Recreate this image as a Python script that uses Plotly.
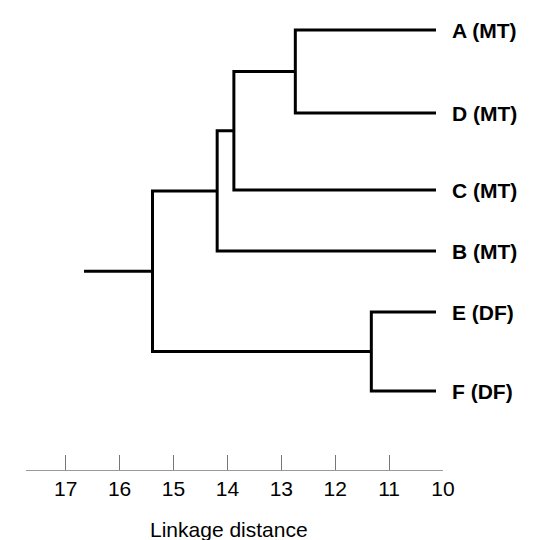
import plotly.graph_objects as go

# ---- data ----
leaf_labels = ["A (MT)", "D (MT)", "C (MT)", "B (MT)", "E (DF)", "F (DF)"]
leaf_pos = [22, 105, 182, 243, 304, 383]          # vertical leaf positions
leaf_dist = 10.13                                   # where leaf branches end
# merges: (node_a, node_b, linkage distance); new node ids continue after leaves
merges = [
    (0, 1, 12.74),   # A + D
    (6, 2, 13.88),   # AD + C
    (7, 3, 14.19),   # ADC + B
    (4, 5, 11.33),   # E + F
    (8, 9, 15.39),   # ADCB + EF
]
root_stub = 16.66
tick_vals = [17, 16, 15, 14, 13, 12, 11, 10]
axis_start = 17.744
axis_title = "Linkage distance"

# ---- build dendrogram paths ----
node_x = [leaf_dist] * len(leaf_labels)
node_y = list(leaf_pos)
xs, ys = [], []
for a, b, h in merges:
    xs += [node_x[a], h, h, node_x[b], None]
    ys += [node_y[a], node_y[a], node_y[b], node_y[b], None]
    node_x.append(h)
    node_y.append((node_y[a] + node_y[b]) / 2)
xs += [node_x[-1], root_stub, None]
ys += [node_y[-1], node_y[-1], None]

fig = go.Figure()
fig.add_trace(go.Scatter(x=xs, y=ys, mode="lines",
                         line=dict(color="black", width=3),
                         hoverinfo="skip", showlegend=False))

for lab, y in zip(leaf_labels, leaf_pos):
    fig.add_annotation(x=leaf_dist, y=y, xref="x", yref="y", text=lab,
                       showarrow=False, xanchor="left", yanchor="middle", xshift=14,
                       font=dict(family="Liberation Sans, Arial", size=21, color="black",
                                 weight="bold"))

fig.add_annotation(x=143 / 535, y=0, xref="paper", yref="paper", text=axis_title,
                   showarrow=False, xanchor="left", yanchor="bottom", yshift=5,
                   font=dict(family="Liberation Sans, Arial", size=21, color="black"))

fig.update_layout(
    width=535, height=540,
    margin=dict(l=0, r=0, t=0, b=0),
    paper_bgcolor="white", plot_bgcolor="white",
    xaxis=dict(domain=[18 / 535, 445 / 535], range=[axis_start, 10],
               anchor="free", position=(540 - 462) / 540,
               tickvals=tick_vals, ticktext=[str(v) for v in tick_vals],
               ticks="inside", ticklen=15, tickcolor="#777", tickwidth=1,
               showline=True, linecolor="#999", linewidth=1,
               showgrid=False, zeroline=False,
               tickfont=dict(family="Liberation Sans, Arial", size=21, color="black")),
    yaxis=dict(domain=[0, 1], range=[540, 0], visible=False,
               showgrid=False, zeroline=False),
)

fig.write_html("out.html")
